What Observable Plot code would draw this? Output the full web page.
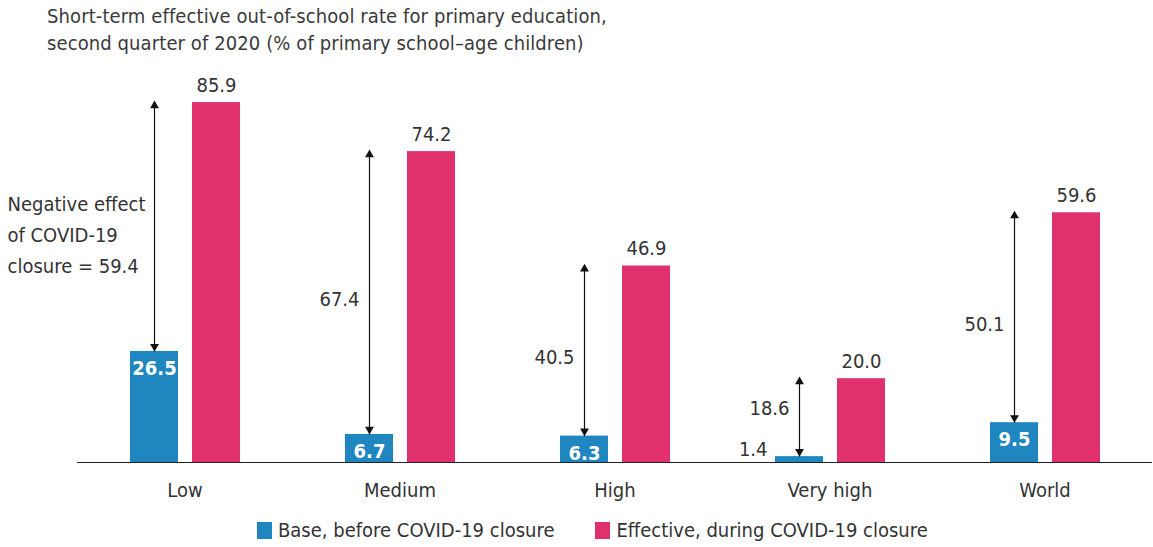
<!DOCTYPE html>
<html>
<head>
<meta charset="utf-8">
<script src="https://cdn.jsdelivr.net/npm/d3@7"></script>
<script src="https://cdn.jsdelivr.net/npm/@observablehq/plot@0.6"></script>
<style>
  body { margin: 0; background: #fff; font-family: "DejaVu Sans", sans-serif; font-stretch: condensed; color: #333; }
  #wrap { position: relative; width: 1153px; height: 547px; }
  #title { position: absolute; left: 47px; top: 3px; font-size: 20px; line-height: 27px; color: #3a3a3a; letter-spacing: 0.1px; }
  #chart { position: absolute; left: 0; top: 0; }
  #chart svg, #chart svg text { font-stretch: condensed; }
  #legend { position: absolute; top: 518px; left: 257px; font-size: 20px; display: flex; align-items: center; color: #333; }
  .sw { display: inline-block; width: 15px; height: 17px; margin-right: 6px; }
  .item { display: flex; align-items: center; margin-right: 41px; }
</style>
</head>
<body>
<div id="wrap">
  <div id="title">Short-term effective out-of-school rate for primary education,<br>second quarter of 2020 (% of primary school–age children)</div>
  <div id="chart"></div>
  <div id="legend"></div>
</div>
<script>
const categories = ["Low", "Medium", "High", "Very high", "World"];
const baseValues = [26.5, 6.7, 6.3, 1.4, 9.5];
const effectiveValues = [85.9, 74.2, 46.9, 20.0, 59.6];
const effectLabels = ["59.4", "67.4", "40.5", "18.6", "50.1"];
const seriesNames = ["Base, before COVID-19 closure", "Effective, during COVID-19 closure"];
const seriesColors = ["#1f86c0", "#e1306e"];
const annotation = ["Negative effect", "of COVID-19", "closure = 59.4"];

const data = categories.map((c, i) => ({
  cat: c, base: baseValues[i], eff: effectiveValues[i], diff: effectLabels[i],
  mid: (baseValues[i] + effectiveValues[i]) / 2
}));
const inside = data.filter(d => d.base > 5);
const outside = data.filter(d => d.base <= 5);
const diffsTall = data.filter((d, i) => i > 0 && d.base > 5);
const diffsShort = data.filter((d, i) => i > 0 && d.base <= 5);

const font = '"DejaVu Sans", sans-serif';
const txt = "#333";
const BDX = -30.5, PDX = 31.5;

const chart = Plot.plot({
  width: 1153,
  height: 510,
  marginLeft: 77,
  marginRight: 1,
  marginTop: 43,
  marginBottom: 48,
  style: { fontFamily: font, fontSize: "20px", color: txt, background: "transparent" },
  x: { domain: categories, padding: 0, label: null, tickSize: 0, tickPadding: 20 },
  y: { domain: [0, 100], axis: null },
  marks: [
    Plot.barY(data, { x: "cat", y: "base", fill: seriesColors[0], insetLeft: 53, insetRight: 114 }),
    Plot.barY(data, { x: "cat", y: "eff", fill: seriesColors[1], insetLeft: 115, insetRight: 52 }),
    Plot.ruleY([0], { stroke: "#222", strokeWidth: 1.2 }),
    Plot.link(data, { x1: "cat", x2: "cat", y1: "base", y2: "eff", dx: BDX, stroke: "#111", strokeWidth: 1.2 }),
    Plot.dot(data, { x: "cat", y: "eff", dx: BDX, dy: 3, symbol: "triangle", r: 3.3, fill: "#111", stroke: null }),
    Plot.dot(data, { x: "cat", y: "base", dx: BDX, dy: -5, symbol: "triangle", rotate: 180, r: 3.3, fill: "#111", stroke: null }),
    Plot.text(data, { x: "cat", y: "eff", text: d => d.eff.toFixed(1), dx: PDX, dy: -17, fill: txt, fontSize: 20 }),
    Plot.text(inside, { x: "cat", y: "base", text: d => d.base.toFixed(1), dx: BDX, dy: 17, fill: "white", fontSize: 20, fontWeight: "bold" }),
    Plot.text(outside, { x: "cat", y: "base", text: d => d.base.toFixed(1), dx: BDX - 32, dy: -7, textAnchor: "end", fill: txt, fontSize: 20 }),
    Plot.text(diffsTall, { x: "cat", y: "mid", text: "diff", dx: BDX - 10, dy: 7, textAnchor: "end", fill: txt, fontSize: 20 }),
    Plot.text(diffsShort, { x: "cat", y: "mid", text: "diff", dx: BDX - 10, dy: -9, textAnchor: "end", fill: txt, fontSize: 20 }),
    Plot.text([data[0]], { x: "cat", y: "mid", text: () => annotation.join("\n"), dx: -177.5, dy: 5, textAnchor: "start", lineHeight: 1.55, fill: txt, fontSize: 20 })
  ]
});
document.getElementById("chart").appendChild(chart);

const legend = document.getElementById("legend");
seriesNames.forEach((n, i) => {
  const item = document.createElement("div");
  item.className = "item";
  const sw = document.createElement("span");
  sw.className = "sw";
  sw.style.background = seriesColors[i];
  item.appendChild(sw);
  item.appendChild(document.createTextNode(n));
  legend.appendChild(item);
});
</script>
</body>
</html>
